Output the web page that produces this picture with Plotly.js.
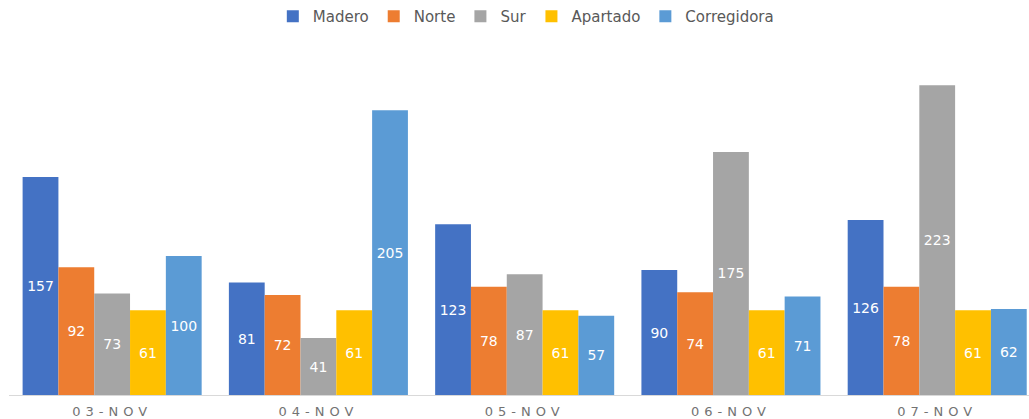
<!DOCTYPE html>
<html>
<head>
<meta charset="utf-8">
<script src="https://cdn.plot.ly/plotly-3.0.1.min.js"></script>
<style>
html,body{margin:0;padding:0;background:#fff;}
#chart{width:1029px;height:419px;}
.xtick text{letter-spacing:5px;}
</style>
</head>
<body>
<div id="chart"></div>
<script>
const categories = ["03-NOV", "04-NOV", "05-NOV", "06-NOV", "07-NOV"];
const madero = [157, 81, 123, 90, 126];
const norte = [92, 72, 78, 74, 78];
const sur = [73, 41, 87, 175, 223];
const apartado = [61, 61, 61, 61, 61];
const corregidora = [100, 205, 57, 71, 62];

const seriesNames = ["Madero", "Norte", "Sur", "Apartado", "Corregidora"];
const seriesValues = [madero, norte, sur, apartado, corregidora];
const seriesColors = ["#4472C4", "#ED7D31", "#A5A5A5", "#FFC000", "#5B9BD5"];

const traces = seriesNames.map((name, i) => ({
  type: "bar",
  name: name,
  x: categories,
  y: seriesValues[i],
  text: seriesValues[i].map(String),
  textposition: "inside",
  insidetextanchor: "middle",
  textangle: 0,
  constraintext: "none",
  textfont: {family: "DejaVu Sans", size: 14, color: "#ffffff"},
  marker: {color: seriesColors[i], line: {width: 0}},
  hoverinfo: "none"
}));

const layout = {
  width: 1029,
  height: 419,
  margin: {l: 9, r: 0, t: 40, b: 24},
  paper_bgcolor: "#ffffff",
  plot_bgcolor: "#ffffff",
  barmode: "group",
  bargap: 0.132,
  bargroupgap: 0,
  showlegend: true,
  legend: {
    orientation: "h",
    xref: "container",
    yref: "container",
    x: 0.511,
    xanchor: "center",
    y: 1,
    yanchor: "top",
    font: {family: "DejaVu Sans", size: 15, color: "#595959"},
    itemwidth: 30,
    tracegroupgap: 0
  },
  xaxis: {
    type: "category",
    range: [-0.5, 4.445],
    showline: true,
    linecolor: "#d9d9d9",
    linewidth: 1,
    showgrid: false,
    zeroline: false,
    ticks: "",
    ticklabelstandoff: 4,
    tickfont: {family: "DejaVu Sans", size: 13, color: "#737373"},
    fixedrange: true
  },
  yaxis: {
    range: [0, 255.6],
    visible: false,
    showgrid: false,
    zeroline: false,
    fixedrange: true
  }
};

Plotly.newPlot("chart", traces, layout, {staticPlot: true, displayModeBar: false});
</script>
</body>
</html>
